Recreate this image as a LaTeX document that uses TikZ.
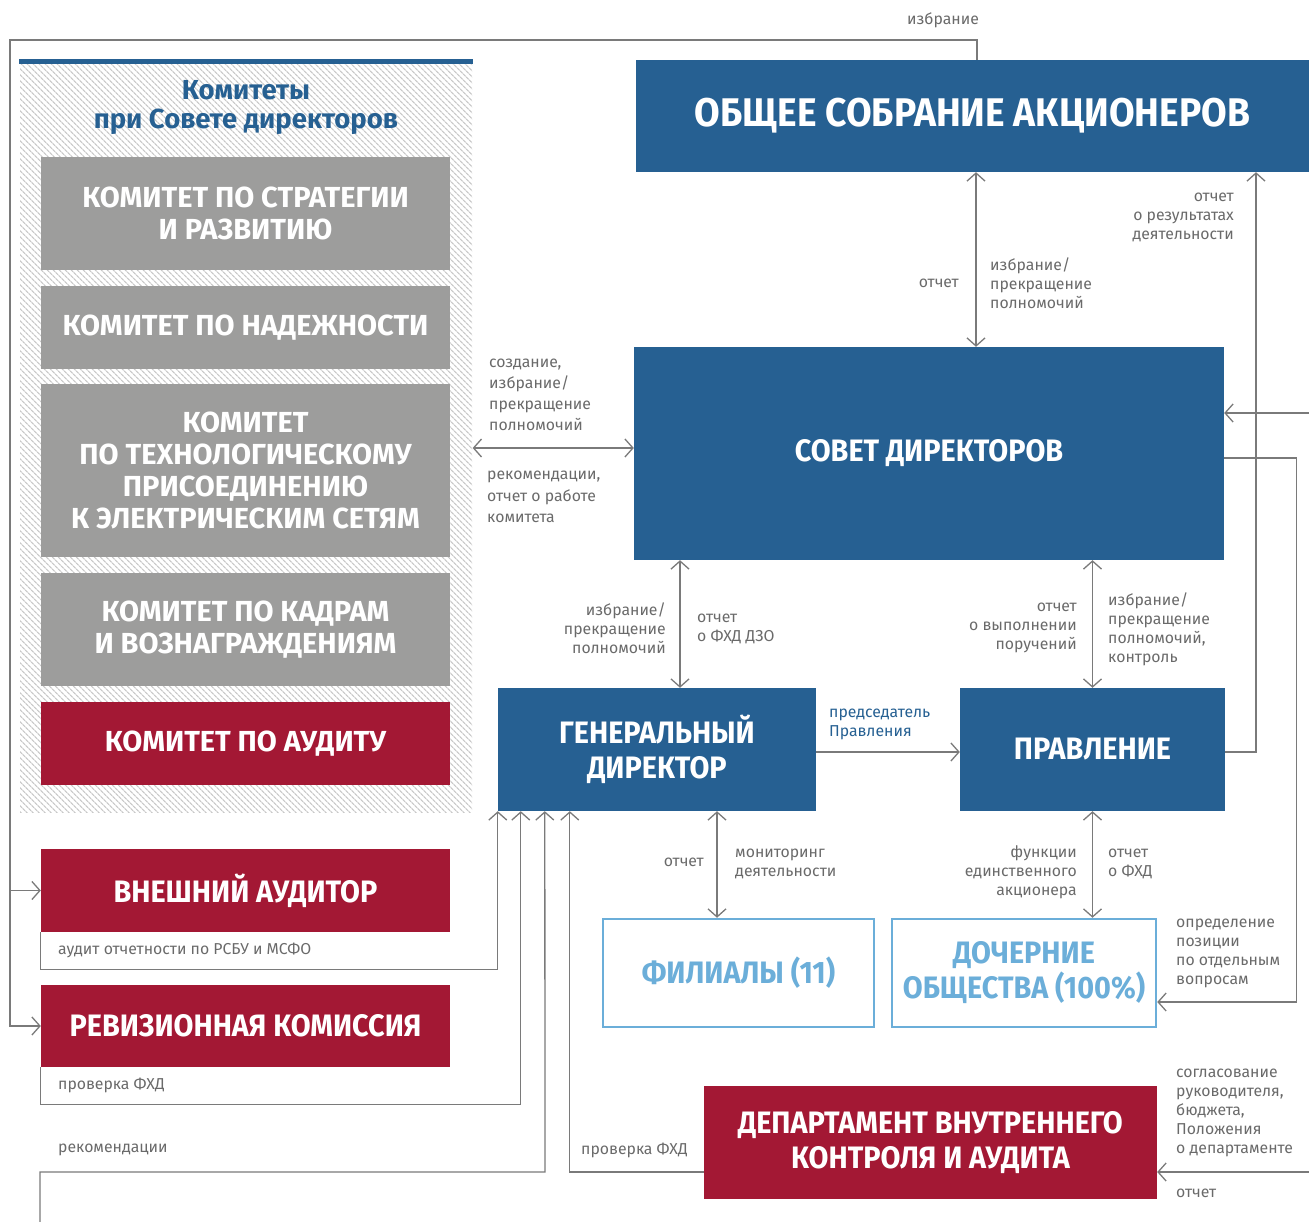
\documentclass[tikz,border=0pt]{standalone}
\usepackage{fontspec}
\setmainfont{Fira Sans}
\newfontfamily\condfont[FakeStretch=0.93]{Fira Sans}
\usetikzlibrary{arrows.meta,positioning,calc,patterns.meta}

\definecolor{BoardBlue}{HTML}{266092}
\definecolor{AuditRed}{HTML}{A31834}
\definecolor{CommGray}{HTML}{9D9D9C}
\definecolor{SubBlue}{HTML}{6BAED9}
\definecolor{LineGray}{HTML}{7A7A7A}
\definecolor{LabGray}{HTML}{6A6A6A}
\definecolor{HatchGray}{HTML}{C9C9C9}

\begin{document}
\begin{tikzpicture}[x=1pt,y=-1pt,
    blk/.style={fill=BoardBlue,text=white,inner sep=0pt,align=center,
                font=\condfont\bfseries\fontsize{31}{35}\selectfont},
    redblk/.style={blk,fill=AuditRed},
    comm/.style={blk,fill=CommGray,minimum width=409pt,
                 font=\bfseries\fontsize{29}{32}\selectfont},
    sub/.style={blk,fill=white,draw=SubBlue,line width=2.5pt,text=SubBlue},
    link/.style={draw=LineGray,line width=1.3pt},
    oneway/.style={link,-{Straight Barb[length=8pt,width=18pt]}},
    twoway/.style={link,{Straight Barb[length=8pt,width=18pt]}-{Straight Barb[length=8pt,width=18pt]}},
    lab/.style={font=\fontsize{15.8}{19}\selectfont,text=LabGray,inner sep=0pt}]
  \useasboundingbox (0,0) rectangle (1309,1222);

  % committees panel
  \node[pattern={Lines[angle=-45,distance=4pt,line width=1.3pt]},pattern color=HatchGray,
        minimum width=452pt,minimum height=752pt,inner sep=0pt] (panel) at (246,436) {};
  \fill[BoardBlue] (panel.north west) rectangle ([yshift=-5pt]panel.north east);
  \node[font=\bfseries\fontsize{27.5}{29}\selectfont,text=BoardBlue,align=center] (ttl) at (246,108)
    {Комитеты\\при Совете директоров};
  \node[comm,minimum height=113pt] (com1) at (245.5,213.5) {КОМИТЕТ ПО СТРАТЕГИИ\\И РАЗВИТИЮ};
  \node[comm,minimum height=83pt]  (com2) at (245.5,327.5) {КОМИТЕТ ПО НАДЕЖНОСТИ};
  \node[comm,minimum height=173pt] (com3) at (245.5,470.5)
    {КОМИТЕТ\\ПО ТЕХНОЛОГИЧЕСКОМУ\\ПРИСОЕДИНЕНИЮ\\К ЭЛЕКТРИЧЕСКИМ СЕТЯМ};
  \node[comm,minimum height=113pt] (com4) at (245.5,629.5) {КОМИТЕТ ПО КАДРАМ\\И ВОЗНАГРАЖДЕНИЯМ};
  \node[comm,fill=AuditRed,minimum height=83pt] (com5) at (245.5,743.5) {КОМИТЕТ ПО АУДИТУ};

  % main bodies
  \node[blk,minimum width=673pt,minimum height=112pt,
        font=\condfont\bfseries\fontsize{40}{44}\selectfont] (osa) at (972.5,116) {ОБЩЕЕ СОБРАНИЕ АКЦИОНЕРОВ};
  \node[blk,minimum width=590pt,minimum height=213pt] (board) at (929,453.5) {СОВЕТ ДИРЕКТОРОВ};
  \node[blk,minimum width=318pt,minimum height=123pt] (ceo) at (657,749.5) {ГЕНЕРАЛЬНЫЙ\\ДИРЕКТОР};
  \node[blk,minimum width=265pt,minimum height=123pt] (mgmt) at (1092.5,749.5) {ПРАВЛЕНИЕ};
  \node[sub,minimum width=271pt,minimum height=108pt] (branches) at (738.5,973) {ФИЛИАЛЫ (11)};
  \node[sub,minimum width=264pt,minimum height=108pt] (subs) at (1024,973) {ДОЧЕРНИЕ\\ОБЩЕСТВА (100\%)};
  \node[redblk,minimum width=453pt,minimum height=113pt] (dvka) at (930.5,1142.5) {ДЕПАРТАМЕНТ ВНУТРЕННЕГО\\КОНТРОЛЯ И АУДИТА};
  \node[redblk,minimum width=409pt,minimum height=83pt] (extaud) at (245.5,890.5) {ВНЕШНИЙ АУДИТОР};
  \node[redblk,minimum width=409pt,minimum height=82pt] (revcom) at (245.5,1026) {РЕВИЗИОННАЯ КОМИССИЯ};

  % connectors
  \coordinate (leftbus) at (10,40);
  \coordinate (recout) at (40,1222);
  \draw[oneway] ([xshift=4.5pt]osa.north) |- (leftbus) |- (revcom.west);
  \draw[oneway] (extaud.west -| leftbus) -- (extaud.west);
  \node[lab] at (943,20) {избрание};

  \draw[twoway] ([xshift=3.5pt]osa.south) -- ([xshift=47pt]board.north);
  \node[lab,anchor=east] at (959,283) {отчет};
  \node[lab,anchor=west,align=left] at (990,283) {избрание/\\прекращение\\полномочий};

  \draw[oneway] ([yshift=-2.5pt]mgmt.east) -| ([xshift=283.5pt]osa.south);
  \node[lab,anchor=east,align=right] at (1234,217) {отчет\\о результатах\\деятельности};

  \draw[twoway] ([yshift=5.5pt]board.west) -- ([yshift=5.5pt]board.west -| panel.east);
  \node[lab,anchor=west,align=left,font=\fontsize{15.8}{21}\selectfont] at (489,395)
    {создание,\\избрание/\\прекращение\\полномочий};
  \node[lab,anchor=west,align=left,font=\fontsize{15.8}{21.5}\selectfont] at (487,497)
    {рекомендации,\\отчет о работе\\комитета};

  \coordinate (rightin) at (1309,413);
  \draw[oneway] (rightin) -- (rightin -| board.east);
  \draw[oneway] ([yshift=-4.5pt]board.east) -- ++(72,0) |- ([yshift=-29pt]subs.east);
  \node[lab,anchor=west,align=left] at (1176,953) {определение\\позиции\\по отдельным\\вопросам};

  \draw[twoway] ([xshift=23pt]ceo.north) -- ([xshift=23pt]ceo.north |- board.south);
  \node[lab,anchor=east,align=right] at (666,628) {избрание/\\прекращение\\полномочий};
  \node[lab,anchor=west,align=left] at (697,628.5) {отчет\\о ФХД ДЗО};

  \draw[twoway] (mgmt.north) -- (mgmt.north |- board.south);
  \node[lab,anchor=east,align=right] at (1077,628) {отчет\\о выполнении\\поручений};
  \node[lab,anchor=west,align=left] at (1108,629) {избрание/\\прекращение\\полномочий,\\контроль};

  \draw[oneway] ([yshift=-2.5pt]ceo.east) -- ([yshift=-2.5pt]ceo.east -| mgmt.west);
  \node[lab,text=BoardBlue,anchor=west,align=left] at (829,724.5) {председатель\\Правления};

  \draw[twoway] ([xshift=60pt]ceo.south) -- ([xshift=60pt]ceo.south |- branches.north);
  \node[lab,anchor=east] at (704,862) {отчет};
  \node[lab,anchor=west,align=left] at (735,863.5) {мониторинг\\деятельности};

  \draw[twoway] (mgmt.south) -- (mgmt.south |- subs.north);
  \node[lab,anchor=east,align=right] at (1077,872) {функции\\единственного\\акционера};
  \node[lab,anchor=west,align=left] at (1108,863.5) {отчет\\о ФХД};

  \draw[oneway] (extaud.south west) -- ++(0,37) -| (ceo.south west);
  \node[lab,anchor=west] at (58,950) {аудит отчетности по РСБУ и МСФО};
  \draw[oneway] (revcom.south west) -- ++(0,37) -| ([xshift=23pt]ceo.south west);
  \node[lab,anchor=west] at (58,1085) {проверка ФХД};
  \draw[oneway] (recout) |- ++(505,-50) -- ([xshift=47pt]ceo.south west);
  \node[lab,anchor=west] at (58,1150) {рекомендации};
  \draw[oneway] ([yshift=-29.5pt]dvka.west) -| ([xshift=72pt]ceo.south west);
  \node[lab,anchor=west] at (581,1150) {проверка ФХД};

  \coordinate (rightlow) at (1309,1172);
  \draw[oneway] (rightlow) -- (rightlow -| dvka.east);
  \node[lab,anchor=west,align=left] at (1176,1113)
    {согласование\\руководителя,\\бюджета,\\Положения\\о департаменте};
  \node[lab,anchor=west] at (1176,1193) {отчет};
\end{tikzpicture}
\end{document}
